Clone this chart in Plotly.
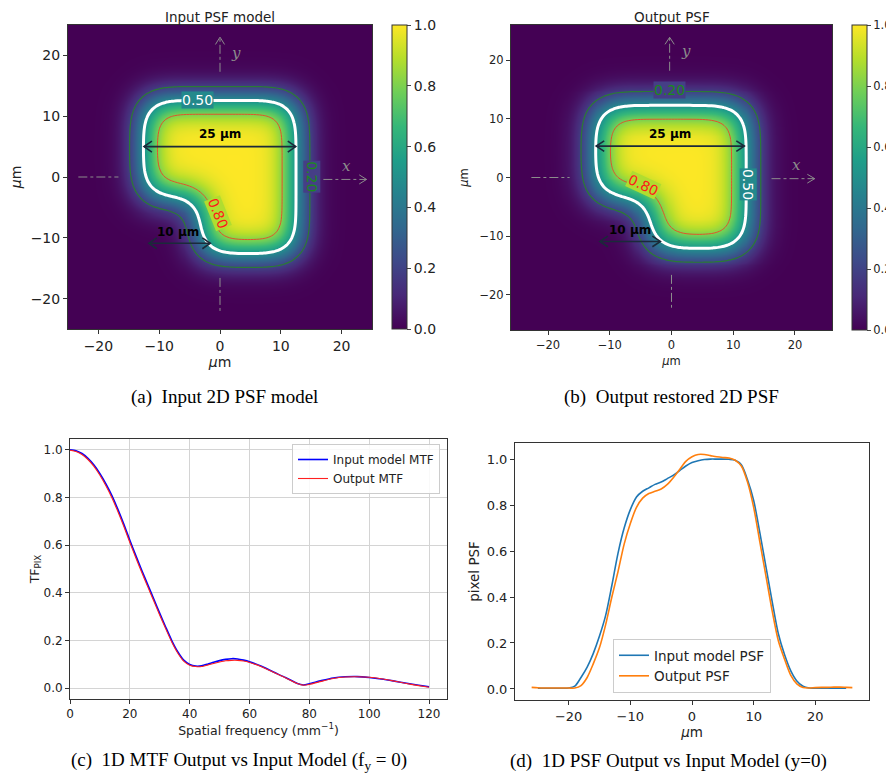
import math
import numpy as np
import plotly.graph_objects as go

# the page puts the figure 8 px in from the top-left corner
OFF = 8
W, H = 894 - OFF, 778 - OFF

input_footprint = [-12.6, 12.5, -12.6, 12.6, -3.2, -3.2, 2.7]
output_footprint = [-12.3, 12.1, -12.1, 12.3, -3.4, -3.3, 2.8]
levels = [0.2, 0.5, 0.8]
level_colors = ["#2b7a35", "white", "#e0542c"]
level_widths = [1.2, 3, 1]

# 1D MTF (f_y = 0)
mtf_freq = [0, 2, 4, 6, 8, 10, 12, 14, 16, 18, 20, 22, 24, 26, 28, 30, 32, 34, 36, 38, 40,
            42, 44, 46, 48, 50, 52, 54, 56, 58, 60, 64, 68, 72, 76, 78, 80, 84, 88, 92, 96,
            100, 104, 108, 112, 116, 120]
mtf_input = [1.000, 0.996, 0.984, 0.964, 0.936, 0.900, 0.857, 0.808, 0.750, 0.687, 0.620,
             0.556, 0.494, 0.434, 0.374, 0.314, 0.256, 0.200, 0.153, 0.118, 0.100, 0.093,
             0.094, 0.101, 0.109, 0.116, 0.121, 0.124, 0.123, 0.118, 0.111, 0.092, 0.068,
             0.045, 0.020, 0.014, 0.019, 0.032, 0.043, 0.048, 0.049, 0.045, 0.039, 0.031,
             0.022, 0.014, 0.006]
mtf_output = [0.998, 0.993, 0.980, 0.959, 0.930, 0.893, 0.849, 0.799, 0.741, 0.678, 0.611,
              0.547, 0.485, 0.425, 0.366, 0.306, 0.249, 0.194, 0.148, 0.114, 0.097, 0.091,
              0.091, 0.097, 0.104, 0.110, 0.115, 0.117, 0.117, 0.114, 0.108, 0.090, 0.067,
              0.044, 0.020, 0.013, 0.016, 0.029, 0.041, 0.047, 0.048, 0.046, 0.040, 0.031,
              0.021, 0.012, 0.004]

# 1D PSF (y = 0)
psf_x_in = list(range(-25, 26))
psf_input = [0.003, 0.003, 0.003, 0.003, 0.003, 0.004, 0.012, 0.05, 0.095, 0.155, 0.23,
             0.32, 0.45, 0.59, 0.70, 0.78, 0.835, 0.86, 0.875, 0.89, 0.90, 0.915, 0.93,
             0.95, 0.97, 0.985, 0.993, 0.998, 1.0, 1.0, 1.0, 0.999, 0.995, 0.975, 0.91,
             0.82, 0.68, 0.53, 0.38, 0.24, 0.15, 0.08, 0.035, 0.012, 0.004, 0.003, 0.003,
             0.003, 0.003, 0.003, 0.003]
psf_x_out = list(range(-26, 27))
psf_output = [0.007, 0.005, 0.004, 0.004, 0.004, 0.004, 0.004, 0.004, 0.015, 0.05, 0.11,
              0.18, 0.28, 0.40, 0.51, 0.63, 0.72, 0.79, 0.83, 0.85, 0.86, 0.87, 0.89, 0.92,
              0.955, 0.99, 1.01, 1.02, 1.02, 1.015, 1.01, 1.007, 1.005, 0.995, 0.97, 0.90,
              0.79, 0.64, 0.49, 0.34, 0.21, 0.13, 0.06, 0.022, 0.006, 0.004, 0.006, 0.007,
              0.007, 0.008, 0.008, 0.007, 0.006]

erf = np.vectorize(math.erf)


def pixel_map(xs, ys, fp):
    x0, x1, y0, y1, xn, yn, s = fp
    X, Y = np.meshgrid(xs, ys)

    def band(u, a, b):
        return 0.5 * (erf((u - a) / (math.sqrt(2) * s)) - erf((u - b) / (math.sqrt(2) * s)))

    return (band(X, x0, x1) * band(Y, yn, y1) + band(X, xn, x1) * band(Y, y0, y1)
            - band(X, xn, x1) * band(Y, yn, y1))


def px(x):
    return (x - OFF) / W


def py(y):
    return 1 - (y - OFF) / H


def dom_x(a, b):
    return [px(a), px(b)]


def dom_y(top, bottom):
    return [py(bottom), py(top)]


fig = go.Figure()
shapes = []
annotations = []

panels = [
    dict(xs=np.arange(-25, 25.01, 0.5), fp=input_footprint, ax="x", ay="y", cb=392, tick=14,
         cblen=304, cby=177),
    dict(xs=np.arange(-26, 26.01, 0.5), fp=output_footprint, ax="x2", ay="y2", cb=852, tick=11.5,
         cblen=305, cby=177.5),
]
for p in panels:
    z = pixel_map(p["xs"], p["xs"], p["fp"])
    fig.add_trace(go.Heatmap(
        x=p["xs"], y=p["xs"], z=z, colorscale="Viridis", zmin=0, zmax=1, zsmooth="best",
        xaxis=p["ax"], yaxis=p["ay"], hoverinfo="skip",
        colorbar=dict(x=px(p["cb"]), xanchor="left", xpad=0, ypad=0, thickness=15, thicknessmode="pixels",
                      len=p["cblen"] / H, lenmode="fraction", y=py(p["cby"]), yanchor="middle",
                      outlinewidth=1, outlinecolor="#333", ticks="outside", ticklen=4,
                      tickvals=[0, 0.2, 0.4, 0.6, 0.8, 1.0], ticktext=["0.0", "0.2", "0.4", "0.6", "0.8", "1.0"],
                      tickfont=dict(family="DejaVu Sans", size=p["tick"], color="#222")),
    ))
    for lv, col, lw in zip(levels, level_colors, level_widths):
        fig.add_trace(go.Contour(
            x=p["xs"], y=p["xs"], z=z, xaxis=p["ax"], yaxis=p["ay"], showscale=False,
            contours=dict(start=lv, end=lv, size=0.1, coloring="none"),
            line=dict(color=col, width=lw, smoothing=1), hoverinfo="skip", showlegend=False,
        ))

fig.add_trace(go.Scatter(x=mtf_freq, y=mtf_input, mode="lines", name="Input model MTF",
                         line=dict(color="#0000ff", width=1.6, shape="spline", smoothing=0.6),
                         xaxis="x3", yaxis="y3", legend="legend"))
fig.add_trace(go.Scatter(x=mtf_freq, y=mtf_output, mode="lines", name="Output MTF",
                         line=dict(color="#ff2020", width=1.1, shape="spline", smoothing=0.6),
                         xaxis="x3", yaxis="y3", legend="legend"))
fig.add_trace(go.Scatter(x=psf_x_in, y=psf_input, mode="lines", name="Input model PSF",
                         line=dict(color="#1f77b4", width=1.6, shape="spline", smoothing=0.8),
                         xaxis="x4", yaxis="y4", legend="legend2"))
fig.add_trace(go.Scatter(x=psf_x_out, y=psf_output, mode="lines", name="Output PSF",
                         line=dict(color="#ff7f0e", width=1.6, shape="spline", smoothing=0.8),
                         xaxis="x4", yaxis="y4", legend="legend2"))


def chevron(xr, yr, tx, ty, ux, uy, L, Hh, color, width):
    # open arrow head with tip at (tx, ty) pointing along (ux, uy)
    nx, ny = -uy, ux
    bx, by = tx - ux * L, ty - uy * L
    path = (f"M {bx + nx * Hh},{by + ny * Hh} L {tx},{ty} L {bx - nx * Hh},{by - ny * Hh}")
    shapes.append(dict(type="path", path=path, xref=xr, yref=yr,
                       line=dict(color=color, width=width)))


def seg(xr, yr, x0, y0, x1, y1, color, width, dash="solid"):
    shapes.append(dict(type="line", x0=x0, y0=y0, x1=x1, y1=y1, xref=xr, yref=yr,
                       line=dict(color=color, width=width, dash=dash)))


gray = "#8c8c8c"
navy = "#1b2a3a"
# decorations for both 2D panels
decor = [
    dict(xr="x", yr="y", h_left=(-23.3, -16.7, 0), h_right=(17.0, 24.1, -0.4), v_top=(0, 17.3, 23.0),
         v_bot=(0, -16.6, -22.2), xl=(20.8, 1.8), yl=(2.7, 20.4),
         a25=(-12.5, 12.45, 5.0), t25=(0, 7.0), a10=(-11.7, -1.6, -10.9), t10=(-6.9, -9.0),
         labels=[("0.50", -3.7, 12.7, 0, "white", "#23898c"),
                 ("0.20", 15.1, 0.0, 90, "#1b8a1b", "#453f86"),
                 ("0.80", -0.4, -6.0, 68, "#ff1a1a", "#b0dd30")]),
    dict(xr="x2", yr="y2", h_left=(-22.7, -16.5, 0), h_right=(16.2, 23.2, -0.2), v_top=(-0.3, 18.2, 23.9),
         v_bot=(0, -16.6, -22.2), xl=(20.2, 2.2), yl=(2.4, 21.6),
         a25=(-12.2, 11.8, 5.35), t25=(-0.2, 7.35), a10=(-11.6, -1.8, -10.9), t10=(-6.8, -8.9),
         labels=[("0.20", -0.3, 14.9, 0, "#1b8a1b", "#453f86"),
                 ("0.50", 12.5, -1.2, 90, "white", "#23898c"),
                 ("0.80", -4.6, -1.2, 25, "#ff1a1a", "#b0dd30")]),
]
for d in decor:
    xr, yr = d["xr"], d["yr"]
    a, b, y0 = d["h_left"]
    seg(xr, yr, a, y0, b, y0, gray, 1, "dashdot")
    a, b, y0 = d["h_right"]
    seg(xr, yr, a, y0, b, y0, gray, 1, "dashdot")
    chevron(xr, yr, b, y0, 1, 0, 1.2, 0.75, gray, 1)
    x0, a, b = d["v_top"]
    seg(xr, yr, x0, a, x0, b, gray, 1, "dashdot")
    chevron(xr, yr, x0, b, 0, 1, 1.2, 0.75, gray, 1)
    x0, a, b = d["v_bot"]
    seg(xr, yr, x0, a, x0, b, gray, 1, "dashdot")
    for txt, pos in (("x", d["xl"]), ("y", d["yl"])):
        annotations.append(dict(text=f"<i>{txt}</i>", x=pos[0], y=pos[1], xref=xr, yref=yr,
                                showarrow=False, font=dict(family="DejaVu Serif", size=15, color=gray)))
    a, b, y0 = d["a25"]
    seg(xr, yr, a, y0, b, y0, navy, 1.6)
    chevron(xr, yr, a, y0, -1, 0, 1.3, 0.9, navy, 1.6)
    chevron(xr, yr, b, y0, 1, 0, 1.3, 0.9, navy, 1.6)
    annotations.append(dict(text="<b>25 µm</b>", x=d["t25"][0], y=d["t25"][1], xref=xr, yref=yr,
                            showarrow=False, font=dict(family="DejaVu Sans", size=12, color="black")))
    a, b, y0 = d["a10"]
    seg(xr, yr, a, y0, b, y0, navy, 1.6)
    chevron(xr, yr, a, y0, -1, 0, 1.3, 0.9, navy, 1.6)
    chevron(xr, yr, b, y0, 1, 0, 1.3, 0.9, navy, 1.6)
    annotations.append(dict(text="<b>10 µm</b>", x=d["t10"][0], y=d["t10"][1], xref=xr, yref=yr,
                            showarrow=False, font=dict(family="DejaVu Sans", size=12, color="black")))
    for txt, x, y, ang, col, bg in d["labels"]:
        annotations.append(dict(text=txt, x=x, y=y, xref=xr, yref=yr, showarrow=False, textangle=ang,
                                bgcolor=bg, borderpad=0,
                                font=dict(family="DejaVu Sans", size=14, color=col)))

# panel titles and captions
annotations += [
    dict(text="Input PSF model", x=px(220), y=py(8), xref="paper", yref="paper", showarrow=False,
         xanchor="center", yanchor="top", borderpad=0, font=dict(family="DejaVu Sans", size=13.5, color="#222")),
    dict(text="Output PSF", x=px(672), y=py(8), xref="paper", yref="paper", showarrow=False,
         xanchor="center", yanchor="top", borderpad=0, font=dict(family="DejaVu Sans", size=13.5, color="#222")),
]
captions = [("(a)\u00a0 Input 2D PSF model", 224, 397),
            ("(b)\u00a0 Output restored 2D PSF", 671, 397),
            ("(c)\u00a0 1D MTF Output vs Input Model (f<sub>y</sub> = 0)", 239, 761),
            ("(d)\u00a0 1D PSF Output vs Input Model (y=0)", 668, 761)]
for txt, cx, cy in captions:
    annotations.append(dict(text=txt, x=px(cx), y=py(cy), xref="paper", yref="paper",
                            xanchor="center", yanchor="middle", showarrow=False,
                            font=dict(family="Liberation Serif", size=19, color="black")))

axis_common = dict(showline=True, mirror=True, linecolor="#333", linewidth=1, ticks="outside",
                   ticklen=4, tickcolor="#333", showgrid=False, zeroline=False, automargin=False)


def img_axis(dom, rng, anchor, size, title, standoff):
    return dict(axis_common, domain=dom, range=rng, anchor=anchor, tickvals=[-20, -10, 0, 10, 20],
                tickfont=dict(family="DejaVu Sans", size=size, color="#222"),
                title=dict(text=title, font=dict(family="DejaVu Sans", size=size, color="#222"),
                           standoff=standoff))


fig.update_layout(
    width=W, height=H, margin=dict(l=0, r=0, t=0, b=0), plot_bgcolor="white", paper_bgcolor="white",
    xaxis=img_axis(dom_x(68, 372), [-25, 25], "y", 14, "<i>μ</i>m", 4),
    yaxis=img_axis(dom_y(25, 329), [-25, 25], "x", 14, "<i>μ</i>m", 6),
    xaxis2=img_axis(dom_x(511, 832), [-26, 26], "y2", 11.5, "<i>μ</i>m", 6),
    yaxis2=img_axis(dom_y(25, 330), [-26, 26], "x2", 11.5, "<i>μ</i>m", 8),
    xaxis3=dict(axis_common, domain=dom_x(70, 447), range=[0, 126], anchor="y3",
                tickvals=[0, 20, 40, 60, 80, 100, 120], showgrid=True, gridcolor="#d4d4d4",
                tickfont=dict(family="DejaVu Sans", size=12, color="#222"),
                title=dict(text="Spatial frequency (mm<sup>−1</sup>)", standoff=2,
                           font=dict(family="DejaVu Sans", size=12.5, color="#222"))),
    yaxis3=dict(axis_common, domain=dom_y(439, 699), range=[-0.045, 1.045], anchor="x3",
                tickvals=[0, 0.2, 0.4, 0.6, 0.8, 1.0], tickformat=".1f", showgrid=True, gridcolor="#d4d4d4",
                tickfont=dict(family="DejaVu Sans", size=12, color="#222"),
                title=dict(text="TF<sub>PIX</sub>", standoff=1,
                           font=dict(family="DejaVu Sans", size=12.5, color="#222"))),
    xaxis4=dict(axis_common, domain=dom_x(515, 869), range=[-28.7, 28.7], anchor="y4",
                tickvals=[-20, -10, 0, 10, 20],
                tickfont=dict(family="DejaVu Sans", size=13, color="#222"),
                title=dict(text="<i>μ</i>m", standoff=1, font=dict(family="DejaVu Sans", size=13.5, color="#222"))),
    yaxis4=dict(axis_common, domain=dom_y(443, 700), range=[-0.048, 1.07], anchor="x4",
                tickvals=[0, 0.2, 0.4, 0.6, 0.8, 1.0], tickformat=".1f",
                tickfont=dict(family="DejaVu Sans", size=13, color="#222"),
                title=dict(text="pixel PSF", standoff=3, font=dict(family="DejaVu Sans", size=13.5, color="#222"))),
    legend=dict(x=px(440), y=py(444), xanchor="right", yanchor="top", bgcolor="rgba(255,255,255,0.85)",
                bordercolor="#cccccc", borderwidth=1, font=dict(family="DejaVu Sans", size=12, color="#222")),
    legend2=dict(x=px(692), y=py(693), xanchor="center", yanchor="bottom", bgcolor="rgba(255,255,255,0.85)",
                 bordercolor="#cccccc", borderwidth=1, font=dict(family="DejaVu Sans", size=13.5, color="#222")),
    shapes=shapes,
    annotations=annotations,
)

fig.write_html("out.html")
